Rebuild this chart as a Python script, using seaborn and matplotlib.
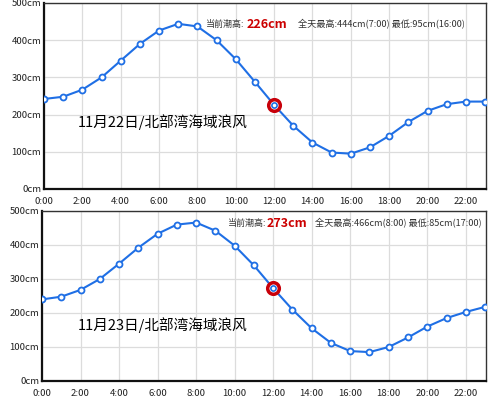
import matplotlib
matplotlib.use("Agg")
import matplotlib.pyplot as plt
import seaborn as sns
import pandas as pd

hours = list(range(24))
hour_ticks = list(range(0, 24, 2))
hour_labels = [f"{h}:00" for h in hour_ticks]
cm_ticks = [0, 100, 200, 300, 400, 500]
cm_labels = [f"{v}cm" for v in cm_ticks]

tide_22 = [242, 248, 267, 300, 345, 390, 426, 444, 437, 400, 349, 288,
           226, 170, 125, 98, 95, 112, 143, 180, 210, 228, 235, 235]
tide_23 = [240, 248, 268, 300, 345, 392, 433, 460, 466, 442, 398, 340,
           273, 210, 155, 112, 88, 85, 100, 128, 160, 185, 203, 218]

now_hour = 12
titles = ["11月22日/北部湾海域浪风", "11月23日/北部湾海域浪风"]
now_labels = ["226cm", "273cm"]
range_labels = ["全天最高:444cm(7:00) 最低:95cm(16:00)",
                "全天最高:466cm(8:00) 最低:85cm(17:00)"]

sns.set_theme(style="white")
plt.rcParams['font.family'] = ['Noto Sans CJK SC', 'DejaVu Sans']

W, H = 490, 398
fig = plt.figure(figsize=(W / 100, H / 100), dpi=100)
fig.patch.set_facecolor("white")

# axes boxes in pixels: left, top, right, bottom
boxes = [(44, 3, 486, 189), (42, 211, 486, 381)]
# (y of info row, x of "当前潮高", x of number, x of range text, y of title)
rows = [(24, 206, 247, 298, 122), (223, 228, 267, 315, 325)]
blue = "#1f6fe5"

for i, (vals, box) in enumerate(zip([tide_22, tide_23], boxes)):
    l, t, r, b = box
    ax = fig.add_axes([l / W, 1 - b / H, (r - l) / W, (b - t) / H])
    df = pd.DataFrame({"hour": hours, "tide": vals})
    sns.lineplot(data=df, x="hour", y="tide", ax=ax, color=blue, lw=1.5,
                 marker="o", markersize=4.3, markerfacecolor="white",
                 markeredgecolor=blue, markeredgewidth=1.3, zorder=3)
    cur = df[df["hour"] == now_hour]
    ax.scatter(cur["hour"], cur["tide"], s=70, facecolor="white",
               edgecolor="#c8000a", linewidth=2.5, zorder=4)
    ax.scatter(cur["hour"], cur["tide"], s=14, facecolor="white",
               edgecolor=blue, linewidth=1.2, zorder=5)
    ax.set_xlim(0, 23.05)
    ax.set_ylim(0, 500)
    ax.set_xticks(hour_ticks)
    ax.set_xticklabels(hour_labels)
    ax.set_yticks(cm_ticks)
    ax.set_yticklabels(cm_labels)
    ax.set_xlabel("")
    ax.set_ylabel("")
    ax.grid(True, color="#dcdcdc", lw=0.9)
    ax.set_axisbelow(True)
    ax.tick_params(axis="both", labelsize=6.9, length=0, colors="#222222")
    ax.tick_params(axis="x", pad=5.5)
    ax.tick_params(axis="y", pad=2)
    for side in ["left", "bottom"]:
        ax.spines[side].set_color("#111111")
        ax.spines[side].set_linewidth(1.6)
    for side in ["top", "right"]:
        ax.spines[side].set_color("#333333")
        ax.spines[side].set_linewidth(1.0)

    ty, x_lab, x_num, x_rng, my = rows[i]
    fig.text(x_lab / W, 1 - ty / H, "当前潮高:", fontsize=6.5, color="#333333",
             va="center", ha="left")
    fig.text(x_num / W, 1 - ty / H, now_labels[i], fontsize=9,
             color="#cc0000", fontweight="bold", va="center", ha="left")
    fig.text(x_rng / W, 1 - ty / H, range_labels[i], fontsize=6.6,
             color="#333333", va="center", ha="left")
    fig.text(78 / W, 1 - my / H, titles[i], fontsize=10.5, color="black",
             va="center", ha="left")

fig.savefig("out.png", dpi=100)
